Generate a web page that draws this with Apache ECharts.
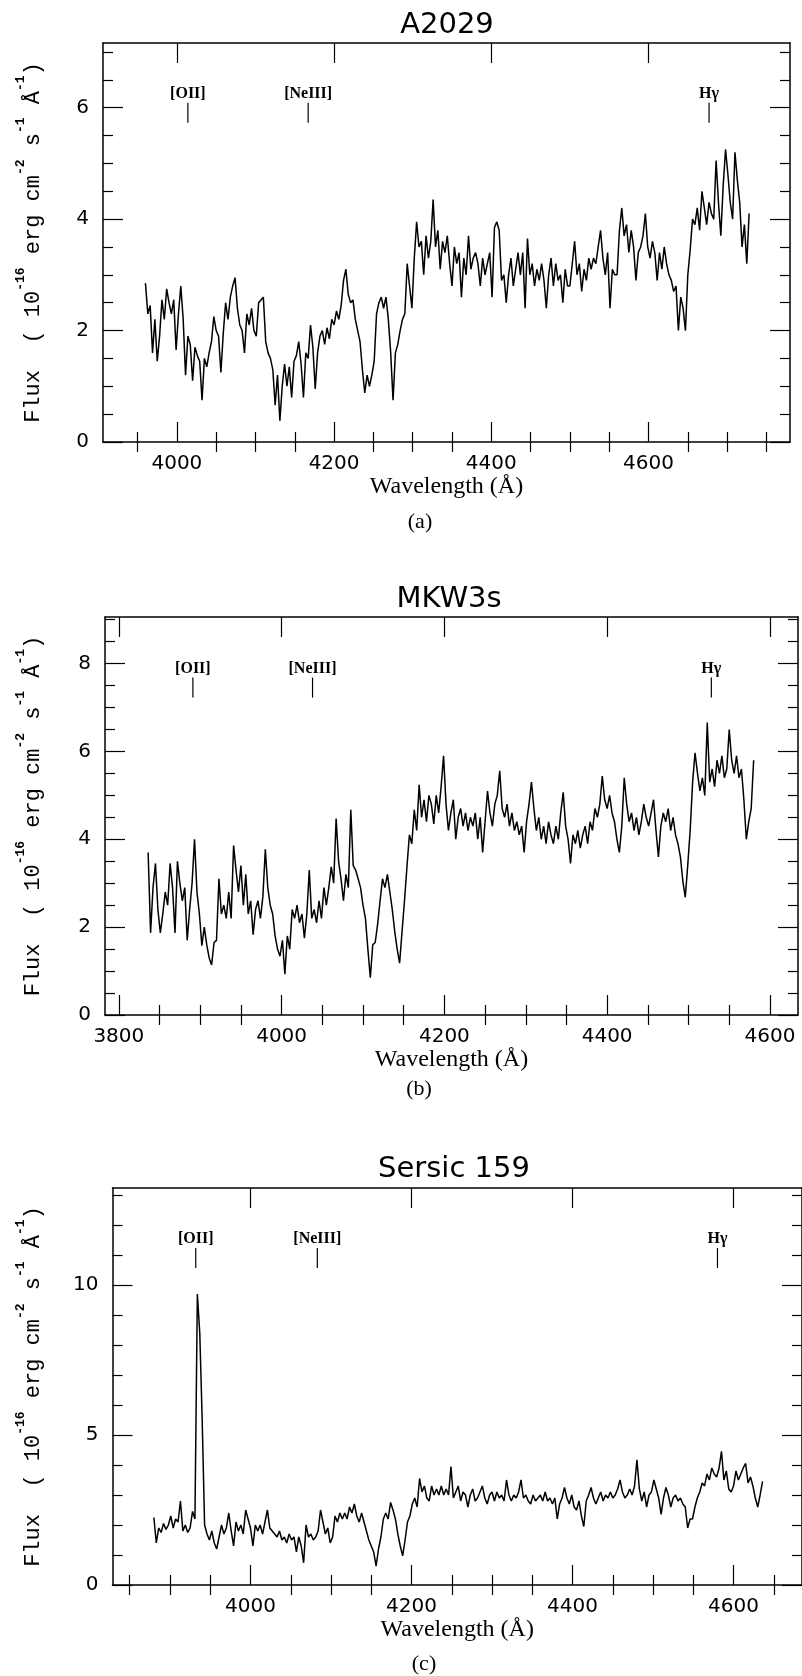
<!DOCTYPE html>
<html><head><meta charset="utf-8">
<script src="https://cdn.jsdelivr.net/npm/echarts@6/dist/echarts.min.js"></script>
<style>html,body{margin:0;padding:0;background:#fff}#c{width:802px;height:1676px}</style>
</head><body><div id="c"></div>
<script>
// ---------------- DATA ----------------
const A2029_START = 3960, A2029_STEP = 3;
const A2029_FLUX = [
 2.85,2.3,2.45,1.6,2.2,1.45,1.9,2.55,2.2,2.75,
 2.5,2.3,2.55,1.65,2.3,2.8,2.2,1.2,1.9,1.75,
 1.1,1.7,1.55,1.45,0.75,1.5,1.35,1.6,1.8,2.25,
 2.0,1.9,1.25,1.95,2.5,2.2,2.6,2.8,2.95,2.4,
 2.1,2.0,1.6,2.3,2.1,2.4,2.0,1.9,2.5,2.55,
 2.6,1.8,1.6,1.5,1.3,0.66,1.2,0.38,1.0,1.4,
 1.0,1.35,0.8,1.45,1.55,1.8,1.4,0.8,1.6,1.5,
 2.1,1.7,0.95,1.6,1.9,2.0,1.75,2.05,1.85,2.2,
 2.1,2.35,2.2,2.45,2.9,3.1,2.65,2.5,2.55,2.2,
 2.0,1.8,1.3,0.88,1.2,1.0,1.2,1.45,2.3,2.5,
 2.6,2.4,2.6,2.2,1.6,0.75,1.6,1.75,2.0,2.2,
 2.3,3.2,2.8,2.4,3.3,3.95,3.5,3.6,3.0,3.7,
 3.3,3.6,4.35,3.5,3.8,3.1,3.6,3.4,3.7,3.2,
 2.8,3.5,3.2,3.4,2.6,3.3,3.0,3.7,3.1,3.3,
 3.4,3.2,2.8,3.3,3.0,3.2,3.4,2.6,3.85,3.95,
 3.8,2.9,3.0,2.5,3.0,3.3,2.8,3.1,3.4,3.0,
 3.4,2.4,3.65,3.0,3.2,2.8,3.1,2.9,3.2,2.9,
 2.4,3.0,3.3,2.8,3.2,2.9,3.0,2.5,3.1,2.8,
 2.8,3.2,3.6,3.0,3.2,2.7,3.1,2.9,3.3,3.1,
 3.3,3.2,3.5,3.8,3.3,3.0,3.4,2.4,3.1,3.0,
 3.0,3.8,4.2,3.7,3.9,3.4,3.8,3.5,2.9,3.4,
 3.5,3.7,4.1,3.5,3.3,3.6,3.4,2.9,3.4,3.1,
 3.5,3.2,3.0,2.9,2.7,2.8,2.0,2.6,2.4,2.0,
 3.0,3.45,4.0,3.9,4.2,3.8,4.5,4.2,3.9,4.3,
 4.1,4.0,5.05,4.3,3.7,4.6,5.25,4.8,4.3,4.0,
 5.2,4.7,4.3,3.5,3.9,3.2,4.1
];
const MKW3S_START = 3836, MKW3S_STEP = 3;
const MKW3S_FLUX = [
 3.7,1.87,2.9,3.45,2.4,1.87,2.3,2.8,2.5,3.45,
 2.9,1.87,3.5,3.0,2.6,2.9,1.7,2.4,3.0,4.0,
 2.8,2.3,1.58,2.0,1.6,1.3,1.14,1.65,1.7,3.1,
 2.3,2.5,2.2,2.8,2.2,3.86,3.3,2.8,3.4,2.5,
 3.2,2.3,2.6,1.83,2.4,2.6,2.2,2.7,3.77,2.9,
 2.5,2.3,1.8,1.5,1.34,1.7,0.93,1.8,1.5,2.4,
 2.2,2.5,2.1,2.3,1.75,2.3,3.3,2.2,2.4,2.1,
 2.6,2.2,2.9,2.5,2.9,3.37,3.0,4.47,3.5,3.1,
 2.6,3.2,2.9,4.67,3.4,3.3,3.1,2.9,2.5,2.2,
 1.5,0.85,1.6,1.65,2.07,2.6,3.1,2.9,3.2,2.8,
 2.4,1.9,1.5,1.18,1.9,2.6,3.37,4.1,3.9,4.67,
 4.2,5.24,4.5,4.9,4.4,5.0,4.8,4.35,5.0,4.6,
 5.2,5.9,4.8,4.2,4.6,4.9,4.0,4.5,4.7,4.3,
 4.6,4.2,4.5,4.3,4.6,4.0,4.5,3.7,4.4,5.1,
 4.6,4.3,4.8,5.0,5.56,4.7,4.5,4.8,4.3,4.6,
 4.2,4.4,4.1,4.3,3.7,4.4,4.8,5.3,4.7,4.2,
 4.5,4.0,4.3,3.9,4.4,4.1,3.9,4.3,4.0,4.6,
 5.07,4.3,4.0,3.45,4.1,3.9,4.2,3.8,4.1,4.3,
 3.9,4.4,4.2,4.7,4.5,4.8,5.44,4.9,4.7,5.0,
 4.6,4.4,4.0,3.7,4.3,5.4,4.8,4.4,4.6,4.2,
 4.5,4.1,4.4,4.8,4.5,4.3,4.6,4.9,4.2,3.6,
 4.3,4.6,4.4,4.7,4.2,4.5,4.1,3.9,3.6,3.05,
 2.68,3.4,4.2,5.3,5.97,5.5,5.1,5.4,5.0,6.66,
 5.3,5.6,5.2,5.8,5.5,5.9,5.4,5.6,6.5,5.8,
 5.5,5.9,5.4,5.6,4.9,4.0,4.4,4.7,5.8
];
const SERSIC_START = 3880, SERSIC_STEP = 3;
const SERSIC_FLUX = [
 2.25,1.4,1.9,1.75,2.05,1.85,2.0,2.3,1.9,2.2,
 2.1,2.8,1.8,2.0,1.75,1.9,2.45,2.2,9.7,8.4,
 5.5,2.0,1.7,1.5,1.8,1.4,1.2,1.6,2.0,1.7,
 1.9,2.4,1.8,1.3,2.1,1.8,2.0,1.7,2.5,2.2,
 1.9,1.3,2.0,1.8,2.0,1.7,2.1,2.5,1.9,1.8,
 1.7,1.6,1.8,1.5,1.6,1.4,1.7,1.5,1.6,1.1,
 1.6,1.3,0.74,2.0,1.6,1.7,1.5,1.6,1.8,2.5,
 2.1,1.7,1.9,1.4,1.6,2.3,2.1,2.4,2.2,2.4,
 2.2,2.6,2.4,2.7,2.3,2.1,2.4,2.1,1.8,1.5,
 1.3,1.1,0.63,1.2,1.6,2.2,2.4,2.2,2.75,2.5,
 2.2,1.7,1.3,0.97,1.5,2.1,2.3,2.7,2.9,2.6,
 3.55,3.1,3.3,2.9,2.8,3.3,3.0,3.2,3.0,3.3,
 3.0,3.2,3.0,3.95,2.9,3.1,3.3,2.8,3.1,3.0,
 2.6,3.0,3.2,2.8,2.9,3.1,3.3,2.9,2.7,3.0,
 3.1,2.8,3.1,2.9,3.0,2.8,3.5,3.0,2.8,3.0,
 2.9,3.1,3.5,2.9,3.0,2.8,2.7,3.0,2.8,2.9,
 3.0,2.8,3.1,2.8,2.9,2.7,2.9,2.2,2.7,2.9,
 3.25,2.9,2.7,3.0,2.6,2.5,2.8,2.3,1.95,2.8,
 3.0,3.25,2.9,2.7,2.9,3.1,2.8,3.0,2.9,3.1,
 2.9,3.0,3.2,3.5,3.1,2.9,3.0,3.2,3.0,3.3,
 4.17,3.2,2.8,3.1,2.6,3.0,3.1,3.5,3.2,2.9,
 2.35,2.9,3.25,3.0,2.6,2.9,3.0,2.8,2.9,2.7,
 2.6,1.9,2.2,2.2,2.6,2.9,3.1,3.4,3.3,3.7,
 3.5,3.9,3.7,3.6,3.9,4.45,3.5,3.8,3.2,3.1,
 3.3,3.8,3.5,3.7,3.9,4.05,3.4,3.6,3.3,2.9,
 2.6,3.0,3.45
];

const TITLES = ['A2029', 'MKW3s', 'Sersic 159'];
const CAPTIONS = ['(a)', '(b)', '(c)'];
const LINE_NAMES = ['[OII]', '[NeIII]', 'H\u03b3'];
const A2029_LINES = [4014, 4167, 4677];
const MKW3S_LINES = [3891, 4038, 4528];
const SERSIC_LINES = [3932, 4083, 4580];

const A2029_XMAJOR = [4000, 4200, 4400, 4600];
const A2029_XMINOR = [3950, 4050, 4100, 4150, 4250, 4300, 4350, 4450, 4500, 4550, 4650, 4700, 4750];
const A2029_YMAJOR = [0, 2, 4, 6];
const A2029_YMINOR = [0.5, 1, 1.5, 2.5, 3, 3.5, 4.5, 5, 5.5, 6.5, 7];
const MKW3S_XMAJOR = [3800, 4000, 4200, 4400, 4600];
const MKW3S_XMINOR = [3850, 3900, 3950, 4050, 4100, 4150, 4250, 4300, 4350, 4450, 4500, 4550];
const MKW3S_YMAJOR = [0, 2, 4, 6, 8];
const MKW3S_YMINOR = [0.5, 1, 1.5, 2.5, 3, 3.5, 4.5, 5, 5.5, 6.5, 7, 7.5, 8.5, 9];
const SERSIC_XMAJOR = [4000, 4200, 4400, 4600];
const SERSIC_XMINOR = [3850, 3900, 3950, 4050, 4100, 4150, 4250, 4300, 4350, 4450, 4500, 4550, 4650];
const SERSIC_YMAJOR = [0, 5, 10];
const SERSIC_YMINOR = [1, 2, 3, 4, 6, 7, 8, 9, 11, 12, 13];

// ---------------- LAYOUT ----------------
const PANELS = [
  {left: 103, top: 43, width: 687, height: 399, xmin: 3906, xmax: 4780, ymax: 7.16,
   start: A2029_START, step: A2029_STEP, flux: A2029_FLUX, lines: A2029_LINES, markTop: 6.09,
   xMajor: A2029_XMAJOR, xMinor: A2029_XMINOR, yMajor: A2029_YMAJOR, yMinor: A2029_YMINOR,
   title: [447, 25], caption: [420, 522]},
  {left: 105, top: 617, width: 693, height: 398, xmin: 3783, xmax: 4634.5, ymax: 9.06,
   start: MKW3S_START, step: MKW3S_STEP, flux: MKW3S_FLUX, lines: MKW3S_LINES, markTop: 7.68,
   xMajor: MKW3S_XMAJOR, xMinor: MKW3S_XMINOR, yMajor: MKW3S_YMAJOR, yMinor: MKW3S_YMINOR,
   title: [449, 599], caption: [419, 1089]},
  {left: 112.5, top: 1188, width: 690, height: 397, xmin: 3828.6, xmax: 4685, ymax: 13.23,
   start: SERSIC_START, step: SERSIC_STEP, flux: SERSIC_FLUX, lines: SERSIC_LINES, markTop: 11.23,
   xMajor: SERSIC_XMAJOR, xMinor: SERSIC_XMINOR, yMajor: SERSIC_YMAJOR, yMinor: SERSIC_YMINOR,
   title: [454, 1169], caption: [424, 1664]}
];

const BLACK = '#000';
const FRAME = {show: true, onZero: false, lineStyle: {color: BLACK, width: 1.5}};
const TICK = {color: BLACK, width: 1.2};
const plain = v => String(v);
const Y_NAME = '{n|Flux  ( 10}{s|-16}{n| erg cm}{s|-2}{n| s}{s|-1}{n| \u00c5}{s|-1}{n|)}';

const grids = [], xAxes = [], yAxes = [], series = [], graphics = [];

PANELS.forEach((p, gi) => {
  grids.push({left: p.left, top: p.top, width: p.width, height: p.height, containLabel: false});
  const xb = {type: 'value', gridIndex: gi, min: p.xmin, max: p.xmax, splitLine: {show: false}};
  const yb = {type: 'value', gridIndex: gi, min: 0, max: p.ymax, splitLine: {show: false}};
  // x axes: bottom major, bottom minor, top major, top minor
  xAxes.push(Object.assign({}, xb, {position: 'bottom', axisLine: FRAME,
    axisTick: {show: true, inside: true, length: 20, customValues: p.xMajor, lineStyle: TICK},
    axisLabel: {show: true, customValues: p.xMajor, formatter: plain, margin: 12, color: BLACK, fontFamily: 'DejaVu Sans', fontSize: 20},
    name: 'Wavelength (\u00c5)', nameLocation: 'middle', nameGap: 30,
    nameTextStyle: {color: BLACK, fontFamily: 'Liberation Serif', fontSize: 24}}));
  xAxes.push(Object.assign({}, xb, {position: 'bottom', axisLine: {show: false},
    axisTick: {show: true, inside: true, length: 10, customValues: p.xMinor, lineStyle: TICK},
    axisLabel: {show: false}}));
  xAxes.push(Object.assign({}, xb, {position: 'top', axisLine: FRAME,
    axisTick: {show: true, inside: true, length: 20, customValues: p.xMajor, lineStyle: TICK},
    axisLabel: {show: false}}));
  xAxes.push(Object.assign({}, xb, {position: 'top', axisLine: {show: false},
    axisTick: {show: true, inside: true, length: 10, customValues: p.xMinor, lineStyle: TICK},
    axisLabel: {show: false}}));
  // y axes: left major, left minor, right major, right minor
  yAxes.push(Object.assign({}, yb, {position: 'left', axisLine: FRAME,
    axisTick: {show: true, inside: true, length: 20, customValues: p.yMajor, lineStyle: TICK},
    axisLabel: {show: true, customValues: p.yMajor, formatter: plain, margin: 14, color: BLACK, fontFamily: 'DejaVu Sans', fontSize: 20},
    name: Y_NAME, nameLocation: 'middle', nameRotate: 90, nameGap: p.left - 44,
    nameTextStyle: {rich: {
      n: {fontFamily: 'Liberation Mono', fontSize: 22, lineHeight: 30, verticalAlign: 'bottom', color: BLACK},
      s: {fontFamily: 'Liberation Mono', fontWeight: 'bold', fontSize: 13, lineHeight: 13, verticalAlign: 'top', color: BLACK}
    }}}));
  yAxes.push(Object.assign({}, yb, {position: 'left', axisLine: {show: false},
    axisTick: {show: true, inside: true, length: 10, customValues: p.yMinor, lineStyle: TICK},
    axisLabel: {show: false}}));
  yAxes.push(Object.assign({}, yb, {position: 'right', axisLine: FRAME,
    axisTick: {show: true, inside: true, length: 20, customValues: p.yMajor, lineStyle: TICK},
    axisLabel: {show: false}}));
  yAxes.push(Object.assign({}, yb, {position: 'right', axisLine: {show: false},
    axisTick: {show: true, inside: true, length: 10, customValues: p.yMinor, lineStyle: TICK},
    axisLabel: {show: false}}));

  series.push({type: 'line', xAxisIndex: gi * 4, yAxisIndex: gi * 4, symbol: 'none', showSymbol: false,
    data: p.flux.map((v, i) => [p.start + p.step * i, v]),
    lineStyle: {color: BLACK, width: 1.5}, silent: true, animation: false});

  series.push({type: 'custom', xAxisIndex: gi * 4, yAxisIndex: gi * 4, silent: true, clip: false, animation: false,
    data: p.lines.map((w, i) => [w, i]),
    renderItem: (params, api) => {
      const pt = api.coord([api.value(0), p.markTop]);
      return {type: 'group', children: [
        {type: 'line', shape: {x1: pt[0], y1: pt[1], x2: pt[0], y2: pt[1] + 20}, style: {stroke: BLACK, lineWidth: 1.2}},
        {type: 'text', x: pt[0], y: pt[1] - 1, style: {text: LINE_NAMES[api.value(1)], align: 'center', verticalAlign: 'bottom',
          fontFamily: 'Liberation Serif', fontWeight: 'bold', fontSize: 16, fill: BLACK}}
      ]};
    }});

  graphics.push({type: 'text', x: p.title[0], y: p.title[1], style: {text: TITLES[gi], align: 'center', verticalAlign: 'middle',
    fontFamily: 'DejaVu Sans', fontSize: 29, fill: BLACK}});
  graphics.push({type: 'text', x: p.caption[0], y: p.caption[1], style: {text: CAPTIONS[gi], align: 'center', verticalAlign: 'middle',
    fontFamily: 'Liberation Serif', fontSize: 22, fill: BLACK}});
});

const chart = echarts.init(document.getElementById('c'), null, {renderer: 'canvas'});
chart.setOption({
  backgroundColor: '#fff',
  animation: false,
  grid: grids,
  xAxis: xAxes,
  yAxis: yAxes,
  series: series,
  graphic: graphics
});
</script>
</body></html>
